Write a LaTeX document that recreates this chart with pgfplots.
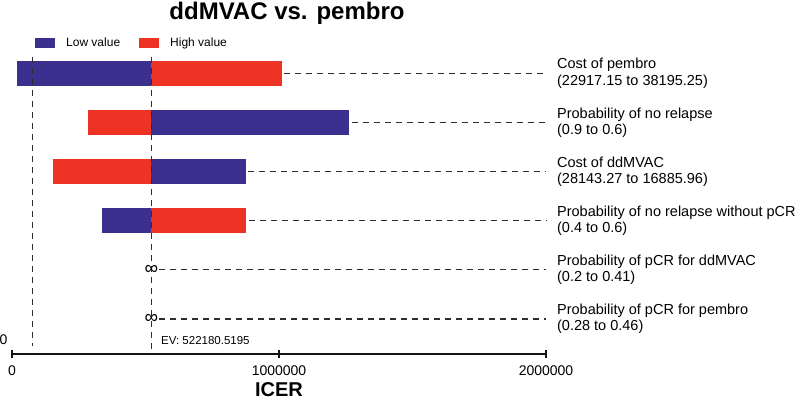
\documentclass[border=0pt]{standalone}
\usepackage{fontspec}
\setmainfont{Liberation Sans}
\usepackage{pgfplots}
\pgfplotsset{compat=1.18}
\definecolor{lowc}{RGB}{60,48,143}
\definecolor{highc}{RGB}{238,50,36}
\definecolor{dashc}{RGB}{45,45,45}
\definecolor{axisc}{RGB}{20,20,20}
\begin{document}
\begin{tikzpicture}
\useasboundingbox (0pt,0pt) rectangle (800pt,400pt);
\begin{axis}[
  at={(12pt,46pt)}, anchor=south west,
  scale only axis, width=534pt, height=314.9pt,
  xmin=0, xmax=2000000, ymin=0.287, ymax=6.7,
  hide y axis,
  axis x line*=bottom,
  x axis line style={axisc, line width=1.3pt},
  xtick={0,1000000,2000000}, xticklabels={0,1000000,2000000},
  tick align=center, major tick length=8pt,
  xtick style={axisc, line width=1.3pt},
  scaled x ticks=false,
  xticklabel style={font=\fontsize{14}{16}\selectfont, yshift=-4pt},
  /pgf/number format/assume math mode=true,
  xlabel={ICER}, xlabel style={font=\bfseries\fontsize{20}{22}\selectfont, yshift=0pt},
  clip=false,
  legend style={at={(axis description cs:0.043,0.988)}, anchor=west, draw=none, fill=none,
    font=\fontsize{12}{14}\selectfont, inner sep=0pt,
    /tikz/every odd column/.append style={column sep=9pt},
    /tikz/every even column/.append style={column sep=17pt}},
  legend columns=2,
  legend image code/.code={\path[#1, draw=none, fill, line width=0pt] (0pt,-5pt) rectangle (20pt,5pt);},
]
% bars: low-value segments (blue) and high-value segments (red), from EV = 522180.5195
% y: 6 = Cost of pembro ... 1 = Probability of pCR for pembro
\addplot[lowc, line width=25pt, unbounded coords=jump] coordinates {
  (20000,6) (522180.5195,6) (nan,nan)
  (1262000,5) (522180.5195,5) (nan,nan)
  (875000,4) (522180.5195,4) (nan,nan)
  (338000,3) (522180.5195,3)
};
\addlegendentry{Low value}
\addplot[highc, line width=25pt, unbounded coords=jump] coordinates {
  (522180.5195,6) (1010000,6) (nan,nan)
  (522180.5195,5) (286000,5) (nan,nan)
  (522180.5195,4) (152000,4) (nan,nan)
  (522180.5195,3) (876000,3)
};
\addlegendentry{High value}
% connectors
\addplot[forget plot, dashc, line width=1.2pt, dash pattern=on 6pt off 5pt, unbounded coords=jump] coordinates {
  (1020000,6) (2000000,6) (nan,nan)
  (1272000,5) (2000000,5) (nan,nan)
  (885000,4) (2000000,4) (nan,nan)
  (886000,3) (2000000,3) (nan,nan)
  (551000,2) (2000000,2) (nan,nan)
  (551000,1) (2000000,1)
};
% vertical reference lines
\addplot[forget plot, dashc, line width=1.2pt, dash pattern=on 6pt off 5pt, unbounded coords=jump] coordinates {
  (522180.5195,6.34) (522180.5195,0.35) (nan,nan)
  (78000,6.34) (78000,0.45)
};
% x axis line and ticks as thin filled areas
\addplot[forget plot, fill=axisc, draw=none] coordinates {(0,0.2735) (2000000,0.2735) (2000000,0.3005) (0,0.3005)} -- cycle;
\addplot[forget plot, fill=axisc, draw=none] coordinates {(-2400,0.2055) (2400,0.2055) (2400,0.3685) (-2400,0.3685)} -- cycle;
\addplot[forget plot, fill=axisc, draw=none] coordinates {(997600,0.2055) (1002400,0.2055) (1002400,0.3685) (997600,0.3685)} -- cycle;
\addplot[forget plot, fill=axisc, draw=none] coordinates {(1997600,0.2055) (2002400,0.2055) (2002400,0.3685) (1997600,0.3685)} -- cycle;
\coordinate (axL) at (axis cs:0,0.287);
\coordinate (axR) at (axis cs:2000000,0.287);
\coordinate (axM) at (axis cs:1000000,0.287);
\node[font=\fontsize{19}{19}\selectfont] at (axis cs:522180.5195,2) {∞};
\node[font=\fontsize{19}{19}\selectfont] at (axis cs:522180.5195,1) {∞};
\node[anchor=west, inner sep=0pt, font=\fontsize{11.5}{13}\selectfont] at (axis cs:558000,0.552) {EV: 522180.5195};
\node[inner sep=0pt, font=\fontsize{14}{16}\selectfont] at (axis cs:-31800,0.57) {0};
\foreach \r/\a/\b in {6/Cost of pembro/(22917.15 to 38195.25),
                     5/Probability of no relapse/(0.9 to 0.6),
                     4/Cost of ddMVAC/(28143.27 to 16885.96),
                     3/Probability of no relapse without pCR/(0.4 to 0.6),
                     2/Probability of pCR for ddMVAC/(0.2 to 0.41),
                     1/Probability of pCR for pembro/(0.28 to 0.46)}{
  \edef\temp{\noexpand\node[anchor=west, inner sep=0pt, align=left, font=\noexpand\fontsize{14.5}{16.5}\noexpand\selectfont] at (axis cs:2041000,\r) {\a\noexpand\\\b};}
  \temp
}
\end{axis}
\draw[axisc, line width=1.3pt] (axL) -- (axR);
\foreach \c in {axL,axM,axR}{\draw[axisc, line width=1.3pt] ([yshift=-4pt]\c) -- ([yshift=4pt]\c);}
\node[anchor=base, font=\bfseries\fontsize{24}{26}\selectfont] at (287pt,380.5pt) {ddMVAC vs. pembro};
\end{tikzpicture}
\end{document}
